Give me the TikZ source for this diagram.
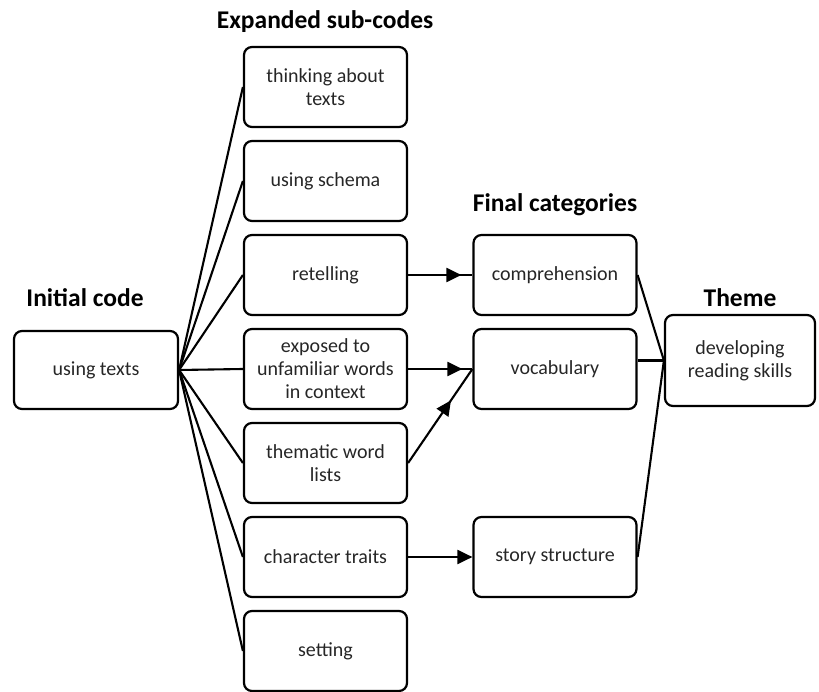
\documentclass[tikz,border=0pt]{standalone}
\usepackage{fontspec}
\setmainfont{Carlito}
\usetikzlibrary{arrows.meta,decorations.markings}
\begin{document}
\begin{tikzpicture}[x=1pt,y=-1pt,
  box/.style={draw, line width=2.2pt, rounded corners=8pt, minimum width=163pt, minimum height=80pt, align=center, font=\fontsize{20}{23}\selectfont, inner sep=0pt, text=black!85},
  title/.style={font=\bfseries\fontsize{25.5}{29}\selectfont, inner sep=0pt},
  conn/.style={line width=2.1pt},
  midarrow/.style={postaction={decorate}, decoration={markings, mark=at position #1 with {\arrow{Triangle[length=15pt,width=14pt]}}}}
]
\useasboundingbox (0,0) rectangle (819,692);

\node[box, minimum width=164pt, minimum height=78pt] (init) at (96,370) {using texts};

\node[box] (s1) at (325.5,87) {thinking about\\texts};
\node[box] (s2) at (325.5,181) {using schema};
\node[box] (s3) at (325.5,275) {retelling};
\node[box] (s4) at (325.5,369) {exposed to\\unfamiliar words\\in context};
\node[box] (s5) at (325.5,463) {thematic word\\lists};
\node[box] (s6) at (325.5,557) {character traits};
\node[box] (s7) at (325.5,651) {setting};

\node[box] (comp) at (555,275) {comprehension};
\node[box] (vocab) at (555,369) {vocabulary};
\node[box] (story) at (555,557) {story structure};

\node[box, minimum width=150pt, minimum height=91pt] (theme) at (740,360.5) {developing\\reading skills};

\node[title] (t1) at (325,22) {Expanded sub-codes};
\node[title] (t2) at (555,205) {Final categories};
\node[title] (t3) at (85,298) {Initial code};
\node[title] (t4) at (740,298) {Theme};

\foreach \s in {s1,s2,s3,s4,s5,s6,s7} \draw[conn] (init.east) -- (\s.west);

\draw[conn, midarrow=-11pt] (s3.east) -- (comp.west);
\draw[conn, midarrow=-10pt] (s4.east) -- (vocab.west);
\draw[conn, midarrow=-38pt] (s5.east) -- (vocab.west);
\draw[conn, -{Triangle[length=15pt,width=14pt]}] (s6.east) -- (story.west);

\draw[conn] (comp.east) -- (theme.west);
\draw[conn] (vocab.east |- theme.west) -- (theme.west);
\draw[conn] (story.east) -- (theme.west);
\end{tikzpicture}
\end{document}
